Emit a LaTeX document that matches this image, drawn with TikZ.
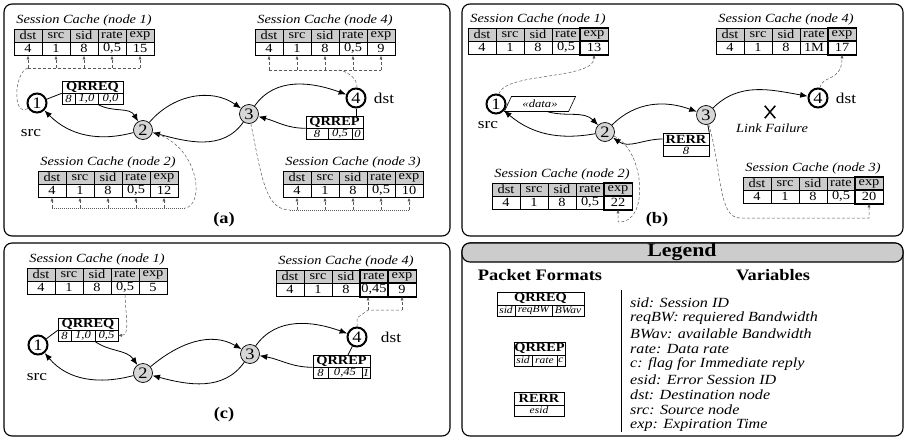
\documentclass[tikz,border=0pt]{standalone}
\usepackage{fontspec}
\setmainfont{Liberation Serif}[FakeStretch=1.15]
\usetikzlibrary{arrows.meta,shapes.geometric,shapes.misc}
\definecolor{hdr}{gray}{0.8}
\definecolor{midg}{gray}{0.84}
\definecolor{dshc}{gray}{0.35}
\newcommand\sctab[9]{%
  \node[sctitle] (#1-t) at (#2+70,-#3+8.5) {Session Cache (node #4)};
  \node[hcell] (#1-h1) at (#2+14,-#3-6.5) {dst};
  \node[hcell] (#1-h2) at (#2+42,-#3-6.5) {src};
  \node[hcell] (#1-h3) at (#2+70,-#3-6.5) {sid};
  \node[hcell] (#1-h4) at (#2+98,-#3-6.5) {rate};
  \node[hcell] (#1-h5) at (#2+126,-#3-6.5) {exp};
  \node[vcell] (#1-v1) at (#2+14,-#3-19.75) {#5};
  \node[vcell] (#1-v2) at (#2+42,-#3-19.75) {#6};
  \node[vcell] (#1-v3) at (#2+70,-#3-19.75) {#7};
  \node[vcell] (#1-v4) at (#2+98,-#3-19.75) {#8};
  \node[vcell] (#1-v5) at (#2+126,-#3-19.75) {#9};
}
\newcommand\hicol[2]{%
  \draw[line width=1.5] (#1-h#2.north west) rectangle (#1-h#2.south east);
  \draw[line width=1.5] (#1-v#2.north west) rectangle (#1-v#2.south east);
}
\begin{document}
\begin{tikzpicture}[x=1pt,y=1pt,
  hcell/.style={draw, fill=hdr, line width=0.6, minimum width=28, minimum height=13, inner sep=0, font=\fontsize{12.5}{12.5}\selectfont},
  vcell/.style={draw, fill=white, line width=0.6, minimum width=28, minimum height=13.5, inner sep=0, font=\fontsize{12.5}{12.5}\selectfont},
  sctitle/.style={font=\itshape\fontsize{12.5}{12.5}\selectfont, inner sep=0},
  endn/.style={circle, draw, line width=2, fill=white, minimum size=19, inner sep=0, font=\fontsize{16}{16}\selectfont},
  midn/.style={circle, draw, line width=0.7, fill=midg, minimum size=19, inner sep=0, font=\fontsize{16}{16}\selectfont},
  arr/.style={line width=0.8, -{Latex[length=7.5pt,width=6pt]}},
  pline/.style={line width=0.8},
  dsh/.style={dash pattern=on 3pt off 2pt, line width=0.5, dshc},
  dts/.style={dash pattern=on 1pt off 1pt, line width=0.5, dshc},
  smtip/.style={-{Latex[length=3.5pt,width=3pt]}},
  lbl/.style={font=\fontsize{15}{15}\selectfont, inner sep=0},
  plab/.style={font=\bfseries\fontsize{16}{16}\selectfont, inner sep=0},
  pkt/.style={draw, fill=white, inner sep=0, minimum height=12, line width=0.6, font=\bfseries\fontsize{12.5}{12.5}\selectfont},
  pkv/.style={draw, fill=white, inner sep=0, minimum height=11, line width=0.6, font=\itshape\fontsize{11}{11}\selectfont},
  lgv/.style={pkv, font=\itshape\fontsize{10}{10}\selectfont},
  panel/.style={draw, line width=1.1, rounded corners=8pt},
  var/.style={font=\itshape\fontsize{14}{14}\selectfont, inner sep=0, anchor=west},
  ghead/.style={font=\bfseries\fontsize{16}{16}\selectfont, inner sep=0}
]
\useasboundingbox (0,0) rectangle (907,-439);

% ---------------- panels
\draw[panel] (4,-4) rectangle (450,-236);
\draw[panel] (462,-4) rectangle (903,-236);
\draw[panel] (4,-243) rectangle (450,-436);
\draw[panel] (462,-243) rectangle (903,-436);
\draw[panel, fill=hdr] (462,-243) rectangle (903,-262);

% ================= PANEL (a)
\sctab{an1}{14}{29}{1}{4}{1}{8}{0,5}{15}
\sctab{an4}{255}{29}{4}{4}{1}{8}{0,5}{9}
\sctab{an2}{38}{171}{2}{4}{1}{8}{0,5}{12}
\sctab{an3}{283}{171}{3}{4}{1}{8}{0,5}{10}

\node[endn] (a1) at (37,-103) {1};
\node[midn] (a2) at (143,-130) {2};
\node[midn] (a3) at (249,-114) {3};
\node[endn] (a4) at (356,-98) {4};
\node[lbl] (asrc) at (31,-133) {src};
\node[lbl] (adst) at (384,-98) {dst};
\node[plab] (alab) at (224,-220) {(a)};

\node[pkt, minimum width=61] (qa) at (92.5,-87) {QRREQ};
\node[pkv, minimum width=13] (qa1) at (68.5,-98.5) {8};
\node[pkv, minimum width=23] (qa2) at (86.5,-98.5) {1,0};
\node[pkv, minimum width=25] (qa3) at (110.5,-98.5) {0,0};

\node[pkt, minimum width=57] (ra) at (334.5,-122) {QRREP};
\node[pkv, minimum width=22] (ra1) at (317,-133.5) {8};
\node[pkv, minimum width=24] (ra2) at (340,-133.5) {0,5};
\node[pkv, minimum width=11] (ra3) at (357.5,-133.5) {0};

\draw[pline] (a1) -- (qa.south west);
\draw[arr] (qa3.south west) to[out=-30,in=120] (a2);
\draw[arr] (a2) to[out=50,in=145] (a3);
\draw[arr] (a3) to[out=55,in=160] (a4);
\draw[pline] (a4) -- (ra.north -| a4);
\draw[arr] (ra.south west) to[out=180,in=-15] (a3);
\draw[arr] (a3) to[out=235,in=-15] (a2);
\draw[arr] (a2) to[out=195,in=-45] (a1);

% dashed cache updates (a)
\coordinate (ha1) at (0,-68);
\coordinate (ha4) at (0,-70);
\coordinate (ha2) at (0,-208);
\coordinate (ha3) at (0,-210);
\coordinate (j1) at (28,-68);
\coordinate (j4) at (338,-70);
\coordinate (j2) at (185,-208);
\coordinate (j3) at (290,-210);
\draw[dsh] (a1) .. controls (12,-118) and (14,-72) .. (j1);
\draw[dsh] (j1) -- (an1-v5.south |- ha1);
\draw[dsh] (a4) .. controls (358,-78) and (345,-70) .. (j4);
\draw[dsh] (an4-v1.south |- ha4) -- (an4-v5.south |- ha4);
\draw[dsh] (a2) .. controls (200,-145) and (205,-206) .. (j2);
\draw[dts] (j2) -- (an2-v1.south |- ha2);
\draw[dsh] (a3) .. controls (262,-180) and (266,-210) .. (j3);
\draw[dts] (j3) -- (an3-v5.south |- ha3);
\foreach \k in {1,...,5} {
  \draw[dsh,smtip] (an1-v\k.south |- ha1) -- (an1-v\k.south);
  \draw[dsh,smtip] (an4-v\k.south |- ha4) -- (an4-v\k.south);
  \draw[dsh,smtip] (an2-v\k.south |- ha2) -- (an2-v\k.south);
  \draw[dsh,smtip] (an3-v\k.south |- ha3) -- (an3-v\k.south);
}

% ================= PANEL (b)
\sctab{bn1}{468}{28}{1}{4}{1}{8}{0,5}{13}
\sctab{bn4}{716}{28}{4}{4}{1}{8}{1M}{17}
\sctab{bn2}{492}{183}{2}{4}{1}{8}{0,5}{22}
\sctab{bn3}{743}{177}{3}{4}{1}{8}{0,5}{20}
\hicol{bn1}{5}
\hicol{bn4}{5}
\hicol{bn2}{5}
\hicol{bn3}{5}

\node[endn] (b1) at (496,-104) {1};
\node[midn] (b2) at (605,-132) {2};
\node[midn] (b3) at (706,-115) {3};
\node[endn] (b4) at (818,-98) {4};
\node[lbl] (bsrc) at (488,-125) {src};
\node[lbl] (bdst) at (846,-98) {dst};
\node[plab] (blab) at (657,-220) {(b)};

\node[trapezium, trapezium left angle=65, trapezium right angle=115, draw, fill=white, line width=0.6,
      inner sep=1, minimum height=15, font=\itshape\fontsize{11}{11}\selectfont] (data) at (540,-104) {«data»};
\node[pkt, minimum width=46] (rr) at (686,-139) {RERR};
\node[pkv, minimum width=46] (rr1) at (686,-150.5) {8};
\node[cross out, draw, line width=1.5, minimum width=9, minimum height=11, inner sep=0] (lf) at (770,-112) {};
\node[font=\itshape\fontsize{12.5}{12.5}\selectfont, inner sep=0] (lft) at (772,-128) {Link Failure};

\draw[pline] (b1) -- (data);
\draw[arr] (data.south east) to[out=-15,in=135] (b2);
\draw[arr] (b2) to[out=45,in=160] (b3);
\draw[arr] (b3) to[out=45,in=170] (b4);
\draw[pline] (b3) -- (rr.north east);
\draw[arr] (rr.west) to[out=180,in=-35] (b2);
\draw[arr] (b2) to[out=190,in=-40] (b1);

\coordinate (j5) at (618,-222);
\coordinate (j6) at (740,-218);
\draw[dsh,smtip] (b1) .. controls (505,-72) and (594,-80) .. (bn1-v5.south);
\draw[dsh,smtip] (b4) .. controls (822,-75) and (842,-82) .. (bn4-v5.south);
\draw[dsh,smtip] (b2) .. controls (645,-150) and (650,-224) .. (j5) -- (bn2-v5.south);
\draw[dsh,smtip] (b3) .. controls (722,-170) and (718,-218) .. (j6) -- (bn3-v5.south |- j6) -- (bn3-v5.south);

% ================= PANEL (c)
\sctab{cn1}{27}{268}{1}{4}{1}{8}{0,5}{5}
\sctab{cn4}{276}{270}{4}{4}{1}{8}{0,45}{9}
\hicol{cn4}{4}
\hicol{cn4}{5}

\node[endn] (c1) at (38,-345) {1};
\node[midn] (c2) at (143,-373) {2};
\node[midn] (c3) at (250,-354) {3};
\node[endn] (c4) at (357,-337) {4};
\node[lbl] (csrc) at (37,-377) {src};
\node[lbl] (cdst) at (391,-337) {dst};
\node[plab] (clab) at (224,-415) {(c)};

\node[pkt, minimum width=60] (qc) at (88,-324) {QRREQ};
\node[pkv, minimum width=13] (qc1) at (64.5,-335.5) {8};
\node[pkv, minimum width=24] (qc2) at (83,-335.5) {1,0};
\node[pkv, minimum width=23] (qc3) at (106.5,-335.5) {0,5};

\node[pkt, minimum width=57] (rc) at (341.5,-361) {QRREP};
\node[pkv, minimum width=15] (rc1) at (320.5,-372.5) {8};
\node[pkv, minimum width=34] (rc2) at (345,-372.5) {0,45};
\node[pkv, minimum width=8] (rc3) at (366,-372.5) {1};

\coordinate (rcTop) at (348,-355);
\draw[pline] (c1) -- (qc.south west);
\draw[arr] (qc3.south west) to[out=-35,in=125] (c2);
\draw[arr] (c2) to[out=40,in=150] (c3);
\draw[arr] (c3) to[out=55,in=160] (c4);
\draw[pline] (c4) -- (rcTop);
\draw[arr] (rc.south west) to[out=180,in=-10] (c3);
\draw[arr] (c3) to[out=235,in=-15] (c2);
\draw[arr] (c2) to[out=195,in=-50] (c1);

\draw[dsh,smtip] (cn1-v4.south) .. controls (126,-320) and (130,-335) .. (qc3.east);
\coordinate (j8) at (357,-318);
\coordinate (j9) at (368,-310);
\draw[dsh] (c4) -- (j8) -- (j9) -- (cn4-v5.south |- j9);
\draw[dsh,smtip] (j9) -- (j9 |- cn4-v4.south);
\draw[dsh,smtip] (cn4-v5.south |- j9) -- (cn4-v5.south);

% ================= LEGEND
\node[font=\bfseries\fontsize{19}{19}\selectfont, inner sep=0] (legt) at (682,-252) {Legend};
\node[ghead] (pf) at (540,-275) {Packet Formats};
\node[ghead] (vh) at (773,-275) {Variables};
\draw[line width=0.7] (621,-290) coordinate (sepa) -- (621,-432) coordinate (sepb);

\node[pkt, minimum width=87, minimum height=13] (lq) at (540.5,-298.5) {QRREQ};
\node[lgv, minimum width=18] (lq1) at (506,-310.5) {sid};
\node[lgv, minimum width=37] (lq2) at (533.5,-310.5) {reqBW};
\node[lgv, minimum width=32] (lq3) at (568,-310.5) {BWav};

\node[pkt, minimum width=51, minimum height=13] (lr) at (539.5,-348.5) {QRREP};
\node[lgv, minimum width=18] (lr1) at (523,-360.5) {sid};
\node[lgv, minimum width=25] (lr2) at (544.5,-360.5) {rate};
\node[lgv, minimum width=8] (lr3) at (561,-360.5) {c};

\node[pkt, minimum width=50, minimum height=13] (le) at (539,-398.5) {RERR};
\node[lgv, minimum width=50] (le1) at (539,-410.5) {esid};

\node[var] (v1) at (630,-303) {sid: Session ID};
\node[var] (v2) at (630,-318.3) {reqBW: requiered Bandwidth};
\node[var] (v3) at (630,-333.6) {BWav: available Bandwidth};
\node[var] (v4) at (630,-348.9) {rate: Data rate};
\node[var] (v5) at (630,-364.2) {c: flag for Immediate reply};
\node[var] (v6) at (630,-379.5) {esid: Error Session ID};
\node[var] (v7) at (630,-394.8) {dst: Destination node};
\node[var] (v8) at (630,-410.1) {src: Source node};
\node[var] (v9) at (630,-425.4) {exp: Expiration Time};
\end{tikzpicture}
\end{document}
